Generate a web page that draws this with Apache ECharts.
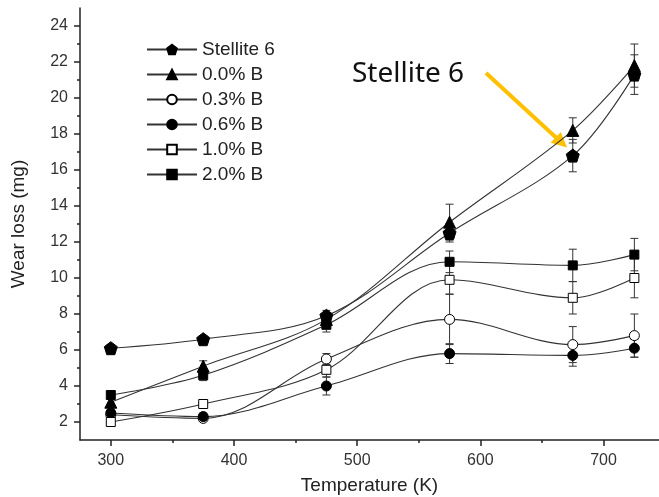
<!DOCTYPE html>
<html><head><meta charset="utf-8">
<script src="https://cdn.jsdelivr.net/npm/echarts@6/dist/echarts.min.js"></script>
<style>html,body{margin:0;padding:0;background:#fff}#c{width:659px;height:497px}</style>
</head><body><div id="c"></div>
<script>
var temperature = [300, 375, 475, 575, 675, 725];
var stellite6 = [6.1, 6.6, 7.9, 12.5, 16.8, 21.3];
var b00 = [3.1, 5.1, 7.7, 13.1, 18.2, 21.8];
var b03 = [2.4, 2.2, 5.5, 7.7, 6.3, 6.8];
var b06 = [2.5, 2.3, 4.0, 5.8, 5.7, 6.1];
var b10 = [2.0, 3.0, 4.9, 9.9, 8.9, 10.0];
var b20 = [3.5, 4.6, 7.4, 10.9, 10.7, 11.3];
var stellite6Err = [0.2, 0.2, 0.3, 0.5, 0.9, 1.1];
var b00Err = [0.2, 0.3, 0.3, 1.0, 0.7, 1.2];
var b03Err = [0.1, 0.1, 0.3, 1.4, 1.0, 1.2];
var b06Err = [0.2, 0.2, 0.5, 0.55, 0.6, 0.5];
var b10Err = [0.1, 0.2, 0.4, 0.8, 0.9, 1.1];
var b20Err = [0.2, 0.3, 0.4, 0.6, 0.9, 0.9];
var seriesNames = ['Stellite 6', '0.0% B', '0.3% B', '0.6% B', '1.0% B', '2.0% B'];
var xMajor = [300, 400, 500, 600, 700];
var xMinor = [350, 450, 550, 650];
var yMajor = [2, 4, 6, 8, 10, 12, 14, 16, 18, 20, 22, 24];
var yMinor = [3, 5, 7, 9, 11, 13, 15, 17, 19, 21, 23];

var pentagon = 'path://M0,-1 L0.951,-0.309 L0.588,0.809 L-0.588,0.809 L-0.951,-0.309 Z';
var values = [stellite6, b00, b03, b06, b10, b20];
var errs = [stellite6Err, b00Err, b03Err, b06Err, b10Err, b20Err];
var symbols = [pentagon, 'triangle', 'circle', 'circle', 'rect', 'rect'];
var sizes = [13, 12, 10, 10, 9, 9];
var fills = ['#000', '#000', '#fff', '#000', '#fff', '#000'];

function pairs(v) { return temperature.map(function (t, i) { return [t, v[i]]; }); }
function triples(v, e) { return temperature.map(function (t, i) { return [t, v[i], e[i]]; }); }

function errItem(params, api) {
  var x = api.value(0), y = api.value(1), e = api.value(2);
  var top = api.coord([x, y + e]), bot = api.coord([x, y - e]);
  var hw = 4, st = { stroke: '#333', lineWidth: 1 };
  return { type: 'group', children: [
    { type: 'line', shape: { x1: top[0], y1: top[1], x2: bot[0], y2: bot[1] }, style: st },
    { type: 'line', shape: { x1: top[0] - hw, y1: top[1], x2: top[0] + hw, y2: top[1] }, style: st },
    { type: 'line', shape: { x1: bot[0] - hw, y1: bot[1], x2: bot[0] + hw, y2: bot[1] }, style: st }
  ]};
}

var series = [];
values.forEach(function (v, i) {
  series.push({
    type: 'custom', name: seriesNames[i] + ' err', renderItem: errItem,
    data: triples(v, errs[i]), encode: { x: 0, y: 1 }, z: 1, silent: true
  });
});
values.forEach(function (v, i) {
  series.push({
    type: 'line', name: seriesNames[i], data: pairs(v), smooth: 0.35,
    symbol: symbols[i], symbolSize: sizes[i], showAllSymbol: true,
    lineStyle: { color: '#333', width: 1.1 },
    itemStyle: { color: fills[i], borderColor: '#000', borderWidth: 1 },
    z: 3
  });
});

var axisFont = { color: '#333', fontSize: 16, fontFamily: 'Liberation Sans, Arial, sans-serif' };
var chart = echarts.init(document.getElementById('c'));
chart.setOption({
  animation: false,
  backgroundColor: '#fff',
  grid: { left: 80, right: 0, top: 8, bottom: 57, containLabel: false, outerBoundsMode: 'none' },
  legend: {
    orient: 'vertical', left: 141, top: 35, itemWidth: 50, itemHeight: 12, itemGap: 6,
    data: seriesNames,
    textStyle: { color: '#222', fontSize: 19, fontFamily: 'Liberation Sans, Arial, sans-serif' }
  },
  xAxis: [{
    type: 'value', min: 275, max: 745,
    name: 'Temperature (K)', nameLocation: 'middle', nameGap: 36,
    nameTextStyle: { color: '#222', fontSize: 19, fontFamily: 'Liberation Sans, Arial, sans-serif' },
    axisLine: { show: true, lineStyle: { color: '#222', width: 1.5 } },
    axisTick: { show: true, length: 6, customValues: xMajor, lineStyle: { color: '#222', width: 1.5 } },
    axisLabel: Object.assign({ margin: 13, customValues: xMajor }, axisFont),
    splitLine: { show: false }
  }, {
    type: 'value', min: 275, max: 745, position: 'bottom',
    axisLine: { show: false },
    axisTick: { show: true, length: 3, customValues: xMinor, lineStyle: { color: '#222', width: 1.5 } },
    axisLabel: { show: false }, splitLine: { show: false }
  }],
  yAxis: [{
    type: 'value', min: 1, max: 25,
    name: 'Wear loss (mg)', nameLocation: 'middle', nameGap: 52,
    nameTextStyle: { color: '#222', fontSize: 19, fontFamily: 'Liberation Sans, Arial, sans-serif' },
    axisLine: { show: true, lineStyle: { color: '#222', width: 1.5 } },
    axisTick: { show: true, length: 6, customValues: yMajor, lineStyle: { color: '#222', width: 1.5 } },
    axisLabel: Object.assign({ margin: 12, customValues: yMajor }, axisFont),
    splitLine: { show: false }
  }, {
    type: 'value', min: 1, max: 25, position: 'left',
    axisLine: { show: false },
    axisTick: { show: true, length: 3, customValues: yMinor, lineStyle: { color: '#222', width: 1.5 } },
    axisLabel: { show: false }, splitLine: { show: false }
  }],
  graphic: [
    { type: 'text', left: 352, top: 60, style: { text: 'Stellite 6', fill: '#111', font: '28px "Noto Sans", sans-serif' } },
    { type: 'line', shape: { x1: 486, y1: 73, x2: 556, y2: 137.5 }, style: { stroke: '#FFC000', lineWidth: 4 } },
    { type: 'polygon', shape: { points: [[567, 147.5], [550.6, 142.8], [560.8, 132]] }, style: { fill: '#FFC000' } }
  ],
  series: series
});
</script></body></html>
